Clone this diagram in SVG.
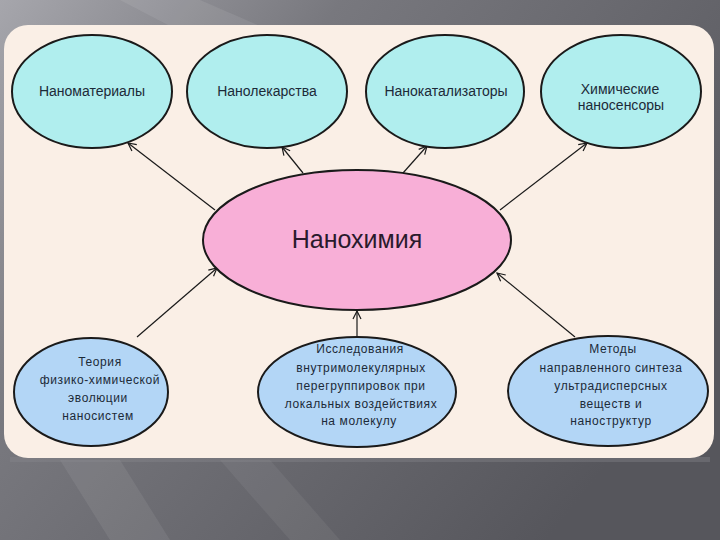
<svg xmlns="http://www.w3.org/2000/svg" width="720" height="540" viewBox="0 0 720 540">
<defs>
<linearGradient id="bg" x1="0" y1="0" x2="1" y2="0.6">
<stop offset="0" stop-color="#a6a6ac"/>
<stop offset="0.35" stop-color="#78787e"/>
<stop offset="1" stop-color="#56565c"/>
</linearGradient>
<linearGradient id="streak" x1="0" y1="0" x2="1" y2="1">
<stop offset="0" stop-color="#ffffff" stop-opacity="0.14"/>
<stop offset="1" stop-color="#ffffff" stop-opacity="0.02"/>
</linearGradient>
<marker id="ah" markerUnits="userSpaceOnUse" markerWidth="12" markerHeight="12" refX="9" refY="5" orient="auto">
<path d="M1,1 L9,5 L1,9" fill="none" stroke="#1a1a1a" stroke-width="1.2"/>
</marker>
<style>
.top{fill:#b0eeee;stroke:#1a1a1a;stroke-width:2}
.bot{fill:#b3d6f6;stroke:#1a1a1a;stroke-width:2}
.ctr{fill:#f8afd7;stroke:#1a1a1a;stroke-width:2}
.t14{font-family:"Liberation Sans",Arial,sans-serif;font-size:14px;fill:#1c2a38;text-anchor:middle}
.t12{font-family:"Liberation Sans",Arial,sans-serif;font-size:12px;letter-spacing:0.6px;fill:#1c2a38;text-anchor:middle}
.t25{font-family:"Liberation Sans",Arial,sans-serif;font-size:25px;fill:#2a1a2c;text-anchor:middle}
.arr{stroke:#1a1a1a;stroke-width:1.2;fill:none;marker-end:url(#ah)}
</style>
</defs>
<rect x="0" y="0" width="720" height="540" fill="url(#bg)"/>
<polygon points="60,460 120,460 170,540 110,540" fill="#ffffff" opacity="0.07"/>
<polygon points="220,460 270,460 340,540 290,540" fill="#ffffff" opacity="0.06"/>
<polygon points="120,0 200,0 260,26 170,26" fill="#ffffff" opacity="0.08"/>
<rect x="10" y="457" width="700" height="5" fill="#8a8a90" opacity="0.35"/>
<rect x="4" y="25" width="710" height="433" rx="24" ry="24" fill="#faefe6"/>

<g id="connectors">
<line class="arr" x1="215" y1="210" x2="128" y2="143"/>
<line class="arr" x1="303" y1="173" x2="282" y2="147"/>
<line class="arr" x1="403" y1="173" x2="427" y2="146"/>
<line class="arr" x1="500" y1="210" x2="587" y2="143"/>
<line class="arr" x1="137" y1="337" x2="217" y2="268"/>
<line class="arr" x1="357" y1="337" x2="357" y2="311"/>
<line class="arr" x1="575" y1="337" x2="497" y2="273"/>
</g>

<g id="n-nanomaterials">
<ellipse class="top" cx="92" cy="91.5" rx="80" ry="56.5"/>
<text class="t14" x="92" y="96">Наноматериалы</text>
</g>
<g id="n-nanodrugs">
<ellipse class="top" cx="267" cy="91.5" rx="80" ry="56.5"/>
<text class="t14" x="267" y="96">Нанолекарства</text>
</g>
<g id="n-nanocatalysts">
<ellipse class="top" cx="445" cy="91.5" rx="79" ry="56.5"/>
<text class="t14" x="446" y="96">Нанокатализаторы</text>
</g>
<g id="n-nanosensors">
<ellipse class="top" cx="621" cy="91.5" rx="80" ry="56.5"/>
<text class="t14" x="620" y="94">Химические</text>
<text class="t14" x="621" y="110">наносенсоры</text>
</g>

<g id="n-nanochemistry">
<ellipse class="ctr" cx="357" cy="240" rx="154" ry="70"/>
<text class="t25" x="357" y="248">Нанохимия</text>
</g>

<g id="n-theory">
<ellipse class="bot" cx="91" cy="392" rx="77" ry="54"/>
<text class="t12" x="100" y="366">Теория</text>
<text class="t12" x="100" y="384">физико-химической</text>
<text class="t12" x="98" y="402">эволюции</text>
<text class="t12" x="98" y="420">наносистем</text>
</g>
<g id="n-research">
<ellipse class="bot" cx="357" cy="392" rx="99" ry="55"/>
<text class="t12" x="360" y="353">Исследования</text>
<text class="t12" x="361" y="372">внутримолекулярных</text>
<text class="t12" x="361" y="390">перегруппировок  при</text>
<text class="t12" x="361" y="408">локальных воздействиях</text>
<text class="t12" x="359" y="425">на молекулу</text>
</g>
<g id="n-methods">
<ellipse class="bot" cx="608" cy="391" rx="100" ry="55"/>
<text class="t12" x="613" y="353">Методы</text>
<text class="t12" x="611" y="372">направленного синтеза</text>
<text class="t12" x="611" y="390">ультрадисперсных</text>
<text class="t12" x="611" y="408">веществ и</text>
<text class="t12" x="611" y="425">наноструктур</text>
</g>
</svg>
